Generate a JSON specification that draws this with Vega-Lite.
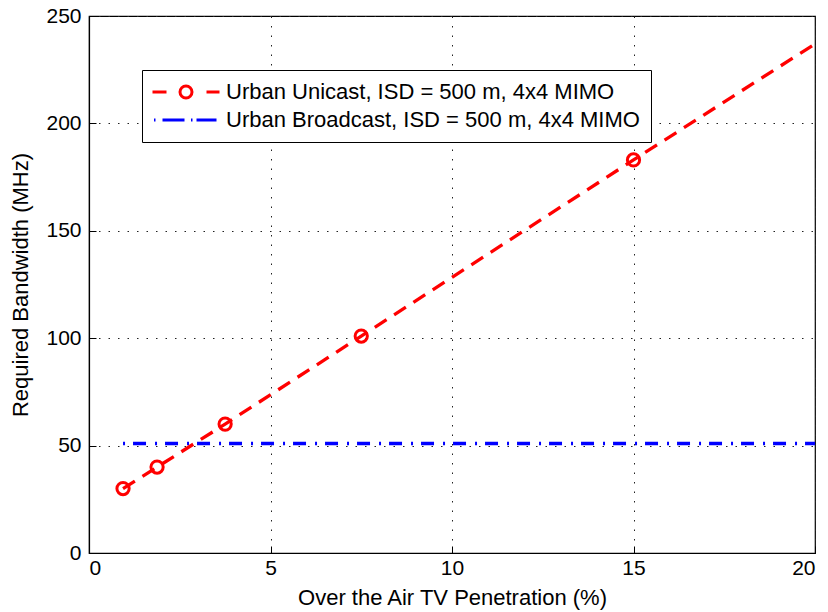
{
  "$schema": "https://vega.github.io/schema/vega-lite/v6.json",
  "width": 726,
  "height": 537,
  "autosize": {"type": "none"},
  "padding": {"left": 89, "top": 16, "right": 13, "bottom": 59},
  "background": "white",
  "config": {
    "font": "Liberation Sans",
    "view": {"stroke": "black", "strokeWidth": 1.2},
    "axis": {
      "labelFont": "Liberation Sans",
      "titleFont": "Liberation Sans",
      "labelFontSize": 21,
      "titleFontSize": 22,
      "titleFontWeight": "normal",
      "labelColor": "black",
      "titleColor": "black",
      "domainColor": "black",
      "domainWidth": 1.2,
      "tickColor": "black",
      "tickSize": -7,
      "grid": true,
      "gridColor": "#222",
      "gridDash": [1.5, 8],
      "gridWidth": 1
    }
  },
  "data": {
    "values": [
      {"series": "Urban Unicast, ISD = 500 m, 4x4 MIMO", "x": 0.9375, "y": 30, "marker": true},
      {"series": "Urban Unicast, ISD = 500 m, 4x4 MIMO", "x": 1.875, "y": 40, "marker": true},
      {"series": "Urban Unicast, ISD = 500 m, 4x4 MIMO", "x": 3.75, "y": 60, "marker": true},
      {"series": "Urban Unicast, ISD = 500 m, 4x4 MIMO", "x": 7.5, "y": 101, "marker": true},
      {"series": "Urban Unicast, ISD = 500 m, 4x4 MIMO", "x": 15, "y": 183, "marker": true},
      {"series": "Urban Unicast, ISD = 500 m, 4x4 MIMO", "x": 20, "y": 237, "marker": false},
      {"series": "Urban Broadcast, ISD = 500 m, 4x4 MIMO", "x": 0.9375, "y": 51, "marker": false},
      {"series": "Urban Broadcast, ISD = 500 m, 4x4 MIMO", "x": 20, "y": 51, "marker": false}
    ]
  },
  "layer": [
    {
      "transform": [{"filter": "datum.series === 'Urban Broadcast, ISD = 500 m, 4x4 MIMO'"}],
      "mark": {"type": "line", "color": "#0000ff", "strokeWidth": 3.5, "strokeDash": [2, 8, 13, 9]},
      "encoding": {
        "x": {"field": "x", "type": "quantitative", "scale": {"domain": [0, 20], "nice": false}, "axis": {"values": [0, 5, 10, 15, 20], "title": "Over the Air TV Penetration (%)", "labelPadding": 11, "titlePadding": 9}},
        "y": {"field": "y", "type": "quantitative", "scale": {"domain": [0, 250], "nice": false}, "axis": {"values": [0, 50, 100, 150, 200, 250], "title": "Required Bandwidth (MHz)", "labelPadding": 15, "titlePadding": 13}}
      }
    },
    {
      "transform": [{"filter": "datum.series === 'Urban Unicast, ISD = 500 m, 4x4 MIMO'"}],
      "mark": {"type": "line", "color": "#ff0000", "strokeWidth": 3.3, "strokeDash": [14, 9]},
      "encoding": {
        "x": {"field": "x", "type": "quantitative"},
        "y": {"field": "y", "type": "quantitative"}
      }
    },
    {
      "transform": [{"filter": "datum.marker"}],
      "mark": {"type": "point", "shape": "circle", "filled": false, "color": "#ff0000", "strokeWidth": 3, "size": 150, "opacity": 1},
      "encoding": {
        "x": {"field": "x", "type": "quantitative"},
        "y": {"field": "y", "type": "quantitative"}
      }
    },
    {
      "mark": {"type": "point", "filled": false, "opacity": 0},
      "encoding": {
        "x": {"field": "x", "type": "quantitative"},
        "y": {"field": "y", "type": "quantitative"},
        "color": {
          "field": "series", "type": "nominal",
          "scale": {"domain": ["Urban Unicast, ISD = 500 m, 4x4 MIMO", "Urban Broadcast, ISD = 500 m, 4x4 MIMO"], "range": ["#ff0000", "#0000ff"]},
          "legend": {
            "orient": "none", "legendX": 53, "legendY": 54, "title": null,
            "strokeColor": "black", "fillColor": "white", "padding": 11,
            "labelFont": "Liberation Sans", "labelFontSize": 22, "labelColor": "black", "labelLimit": 0,
            "symbolOpacity": 1, "symbolStrokeWidth": 3, "symbolSize": 100, "symbolOffset": 22, "labelOffset": 29, "rowPadding": 5
          }
        },
        "shape": {
          "field": "series", "type": "nominal",
          "scale": {"domain": ["Urban Unicast, ISD = 500 m, 4x4 MIMO", "Urban Broadcast, ISD = 500 m, 4x4 MIMO"], "range": ["M-6.7,0H-3.9M4.1,0H6.7M1.2,0A1.2,1.2,0,1,1,-1.2,0A1.2,1.2,0,1,1,1.2,0", "M-6.4,0H-6.1M-4.7,0H-0.3M1.0,0H1.3M2.1,0H6.1"]},
          "legend": {
            "orient": "none", "legendX": 53, "legendY": 54, "title": null,
            "strokeColor": "black", "fillColor": "white", "padding": 11,
            "labelFont": "Liberation Sans", "labelFontSize": 22, "labelColor": "black", "labelLimit": 0,
            "symbolOpacity": 1, "symbolStrokeWidth": 3, "symbolSize": 100, "symbolOffset": 22, "labelOffset": 29, "rowPadding": 5
          }
        }
      }
    }
  ]
}
